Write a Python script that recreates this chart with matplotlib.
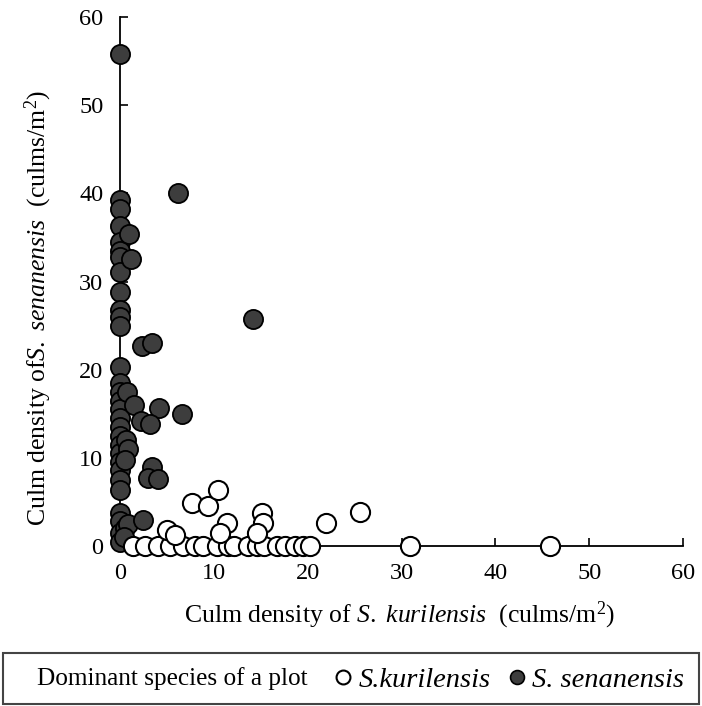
import matplotlib
matplotlib.use("Agg")
import matplotlib.pyplot as plt
from matplotlib.patches import Rectangle
from matplotlib.lines import Line2D

plt.rcParams["font.family"] = ["Liberation Serif", "DejaVu Serif"]
plt.rcParams["mathtext.fontset"] = "custom"
plt.rcParams["mathtext.rm"] = "Liberation Serif"
plt.rcParams["mathtext.it"] = "Liberation Serif:italic"

# plots dominated by S. senanensis (filled)
sen_x = [0] * 30 + [1.0, 1.2, 6.2, 14.2, 2.3, 3.4, 0.7, 1.5, 4.2, 6.6, 2.2, 3.2,
                    0.6, 0.8, 0.5, 3.4, 3.0, 4.1, 0.5, 0.8, 2.4, 0.4]
sen_y = [55.8, 39.3, 38.2, 36.3, 34.5, 33.5, 32.8, 31.1, 28.8, 26.8, 26.0, 25.0,
         20.3, 18.5, 17.5, 16.5, 15.5, 14.5, 13.5, 12.5, 11.5, 10.5, 9.5, 8.6,
         7.5, 6.4, 3.7, 2.8, 1.5, 0.5,
         35.4, 32.5, 40.0, 25.8, 22.7, 23.0, 17.5, 16.0, 15.7, 15.0, 14.2, 13.8,
         12.0, 11.0, 9.8, 9.0, 7.7, 7.6, 2.0, 2.5, 2.9, 1.0]

# plots dominated by S. kurilensis (open)
kur_x = [1.4, 2.7, 4.1, 5.3, 6.7, 8.0, 8.8, 10.3, 11.5, 12.2, 13.6, 14.6, 15.3,
         16.7, 17.6, 18.6, 19.5, 20.3, 30.9, 45.8,
         7.7, 9.4, 10.4, 11.4, 10.7, 15.1, 15.2, 14.6, 22.0, 25.6, 5.0, 5.9]
kur_y = [0] * 20 + [4.9, 4.5, 6.4, 2.6, 1.5, 3.7, 2.6, 1.5, 2.6, 3.9, 1.8, 1.2]

ticks = [0, 10, 20, 30, 40, 50, 60]

fig = plt.figure(figsize=(7.02, 7.06), dpi=100)
ax = fig.add_axes([120 / 702, 1 - 546 / 706, 563 / 702, 529 / 706])

ax.scatter(sen_x, sen_y, s=190, facecolor="#3d3d3d", edgecolor="black",
           linewidth=1.3, clip_on=False, zorder=3)
ax.scatter(kur_x, kur_y, s=190, facecolor="white", edgecolor="black",
           linewidth=1.5, clip_on=False, zorder=4)

ax.set_xlim(0, 60)
ax.set_ylim(0, 60)
ax.set_xticks(ticks)
ax.set_yticks(ticks)
ax.tick_params(direction="in", length=6, width=1.2, labelsize=17.5, pad=12)
for s in ["top", "right"]:
    ax.spines[s].set_visible(False)
for s in ["left", "bottom"]:
    ax.spines[s].set_linewidth(1.3)

fig.text(400 / 702, 1 - 615 / 706,
         r"Culm density of $\mathit{S.\ kurilensis}$  (culms/m$^2$)",
         ha="center", va="center", fontsize=18.5)
fig.text(38 / 702, 1 - 308 / 706,
         r"Culm density of$\mathit{S.\ senanensis}$  (culms/m$^2$)",
         ha="center", va="center", rotation=90, fontsize=18.5)

# legend box at the bottom
fig.patches.append(Rectangle((3 / 702, 1 - 704 / 706), 696 / 702, 51 / 706,
                             transform=fig.transFigure, fill=False,
                             edgecolor="#444444", linewidth=1.5))
fig.text(37 / 702, 1 - 679 / 706, "Dominant species of a plot",
         ha="left", va="center", fontsize=18.2)
handles = [
    Line2D([], [], marker="o", ls="none", markersize=10, mfc="white",
           mec="black", mew=1.5, label="S.kurilensis"),
    Line2D([], [], marker="o", ls="none", markersize=10, mfc="#3d3d3d",
           mec="black", mew=1.2, label="S. senanensis"),
]
fig.legend(handles=handles, loc="center left", ncol=2, frameon=False,
           bbox_to_anchor=(336 / 702, 1 - 680 / 706),
           prop={"size": 20.5, "style": "italic"},
           handlelength=0.5, handletextpad=0.3, columnspacing=0.65,
           borderaxespad=0, borderpad=0)

fig.savefig("out.png", dpi=100)
